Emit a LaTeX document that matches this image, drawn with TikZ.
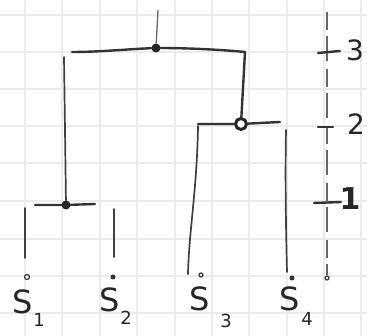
\documentclass[tikz,border=0pt]{standalone}
\usepackage{fontspec}
\setsansfont{DejaVu Sans}
\tikzset{
  grid line/.style={draw=black!8, line width=1.2pt},
  ink/.style={draw=black!80, line width=2.4pt, line cap=round},
  thin ink/.style={draw=black!75, line width=1.7pt, line cap=round},
  junction/.style={circle, fill=black!85, inner sep=0pt, minimum size=9pt},
  ring/.style={circle, draw=black!85, line width=3pt, fill=white, inner sep=0pt, minimum size=11pt},
  leaf/.style={circle, draw=black!75, line width=1.3pt, inner sep=0pt, minimum size=5pt},
  leafdot/.style={circle, fill=black!80, inner sep=0pt, minimum size=5pt},
  label/.style={text=black!85, font=\sffamily\fontsize{32}{32}\selectfont, inner sep=0pt},
  sub/.style={text=black!85, font=\sffamily\fontsize{18}{18}\selectfont, inner sep=0pt},
  axislabel/.style={text=black!85, font=\sffamily\fontsize{28}{28}\selectfont, inner sep=0pt},
}
\begin{document}
\begin{tikzpicture}[x=1pt, y=-1pt]
\useasboundingbox (0,0) rectangle (367,336);
\fill[white] (0,0) rectangle (367,336);
% grid paper
\foreach \gx in {25,62,100,137,175,212,249,287,324,361}
  \draw[grid line] (\gx,0) -- (\gx,336);
\foreach \gy in {15,52,89,126,163,201,239,276,313}
  \draw[grid line] (0,\gy) -- (367,\gy);

% leaves
\node[leaf] (s1) at (27,277) {};
\node[leafdot] (s2) at (113,277) {};
\node[leaf, minimum size=4pt] (s3) at (201,275) {};
\node[leafdot] (s4) at (292,278) {};
\node[leaf, minimum size=4pt] (a0) at (327,278) {};

% labels
\node[label] (l1) at (23,302) {S};
\node[sub] (l1s) at (39,320) {1};
\node[label] (l2) at (110,300) {S};
\node[sub] (l2s) at (126,318) {2};
\node[label] (l3) at (200,299) {S};
\node[sub] (l3s) at (226,321) {3};
\node[label] (l4) at (290,299) {S};
\node[sub] (l4s) at (307,319) {4};

% junction 1
\coordinate (j1l) at (35,205);
\coordinate (j1r) at (95,204);
\node[junction] (j1) at (66,205) {};
\draw[ink] (j1l) -- (j1) -- (j1r);
\coordinate (s1top) at (25,208);
\coordinate (s1bot) at (25,258);
\draw[thin ink] (s1top) -- (s1bot);
\coordinate (s2top) at (114,209);
\coordinate (s2bot) at (114,257);
\draw[thin ink] (s2top) -- (s2bot);

% junction 2
\node[ring] (j2) at (241,124) {};
\coordinate (j2l) at (198,124);
\coordinate (j2r) at (280,122);
\draw[ink] (j2l) -- (j2) -- (j2r);
\coordinate (s3top) at (198,126);
\coordinate (s3bot) at (188,274);
\draw[thin ink] (s3top) .. controls (197,190) and (189,230) .. (s3bot);
\coordinate (s4top) at (286,130);
\coordinate (s4bot) at (287,272);
\draw[thin ink] (s4top) .. controls (285,180) and (286,230) .. (s4bot);

% junction 3
\node[junction] (j3) at (156,48) {};
\coordinate (j3l) at (72,52);
\coordinate (j3r) at (245,52);
\draw[ink] (j3l) .. controls (100,52) and (130,49) .. (j3) .. controls (190,48) and (225,50) .. (j3r);
\draw[ink] (j3r) -- (j2);
\coordinate (j3top) at (158,10);
\draw[draw=black!60, line width=1.3pt] (j3top) -- (j3);
\coordinate (c3l) at (64,57);
\draw[thin ink] (c3l) -- (65,130) -- (j1);

% axis
\coordinate (atop) at (327,12);
\draw[draw=black!60, line width=1.3pt, dash pattern=on 18pt off 6pt on 25pt off 8pt] (atop) -- (a0);
\coordinate (t3a) at (318,53); \coordinate (t3b) at (340,51);
\draw[ink] (t3a) -- (t3b);
\coordinate (t2a) at (318,127); \coordinate (t2b) at (333,127);
\draw[ink] (t2a) -- (t2b);
\coordinate (t1a) at (314,203); \coordinate (t1b) at (341,202);
\draw[ink] (t1a) -- (t1b);
\node[axislabel] (n3) at (355,50) {3};
\node[axislabel] (n2) at (356,124) {2};
\node[axislabel, font=\sffamily\bfseries\fontsize{30}{30}\selectfont] (n1) at (350,199) {1};
\end{tikzpicture}
\end{document}
